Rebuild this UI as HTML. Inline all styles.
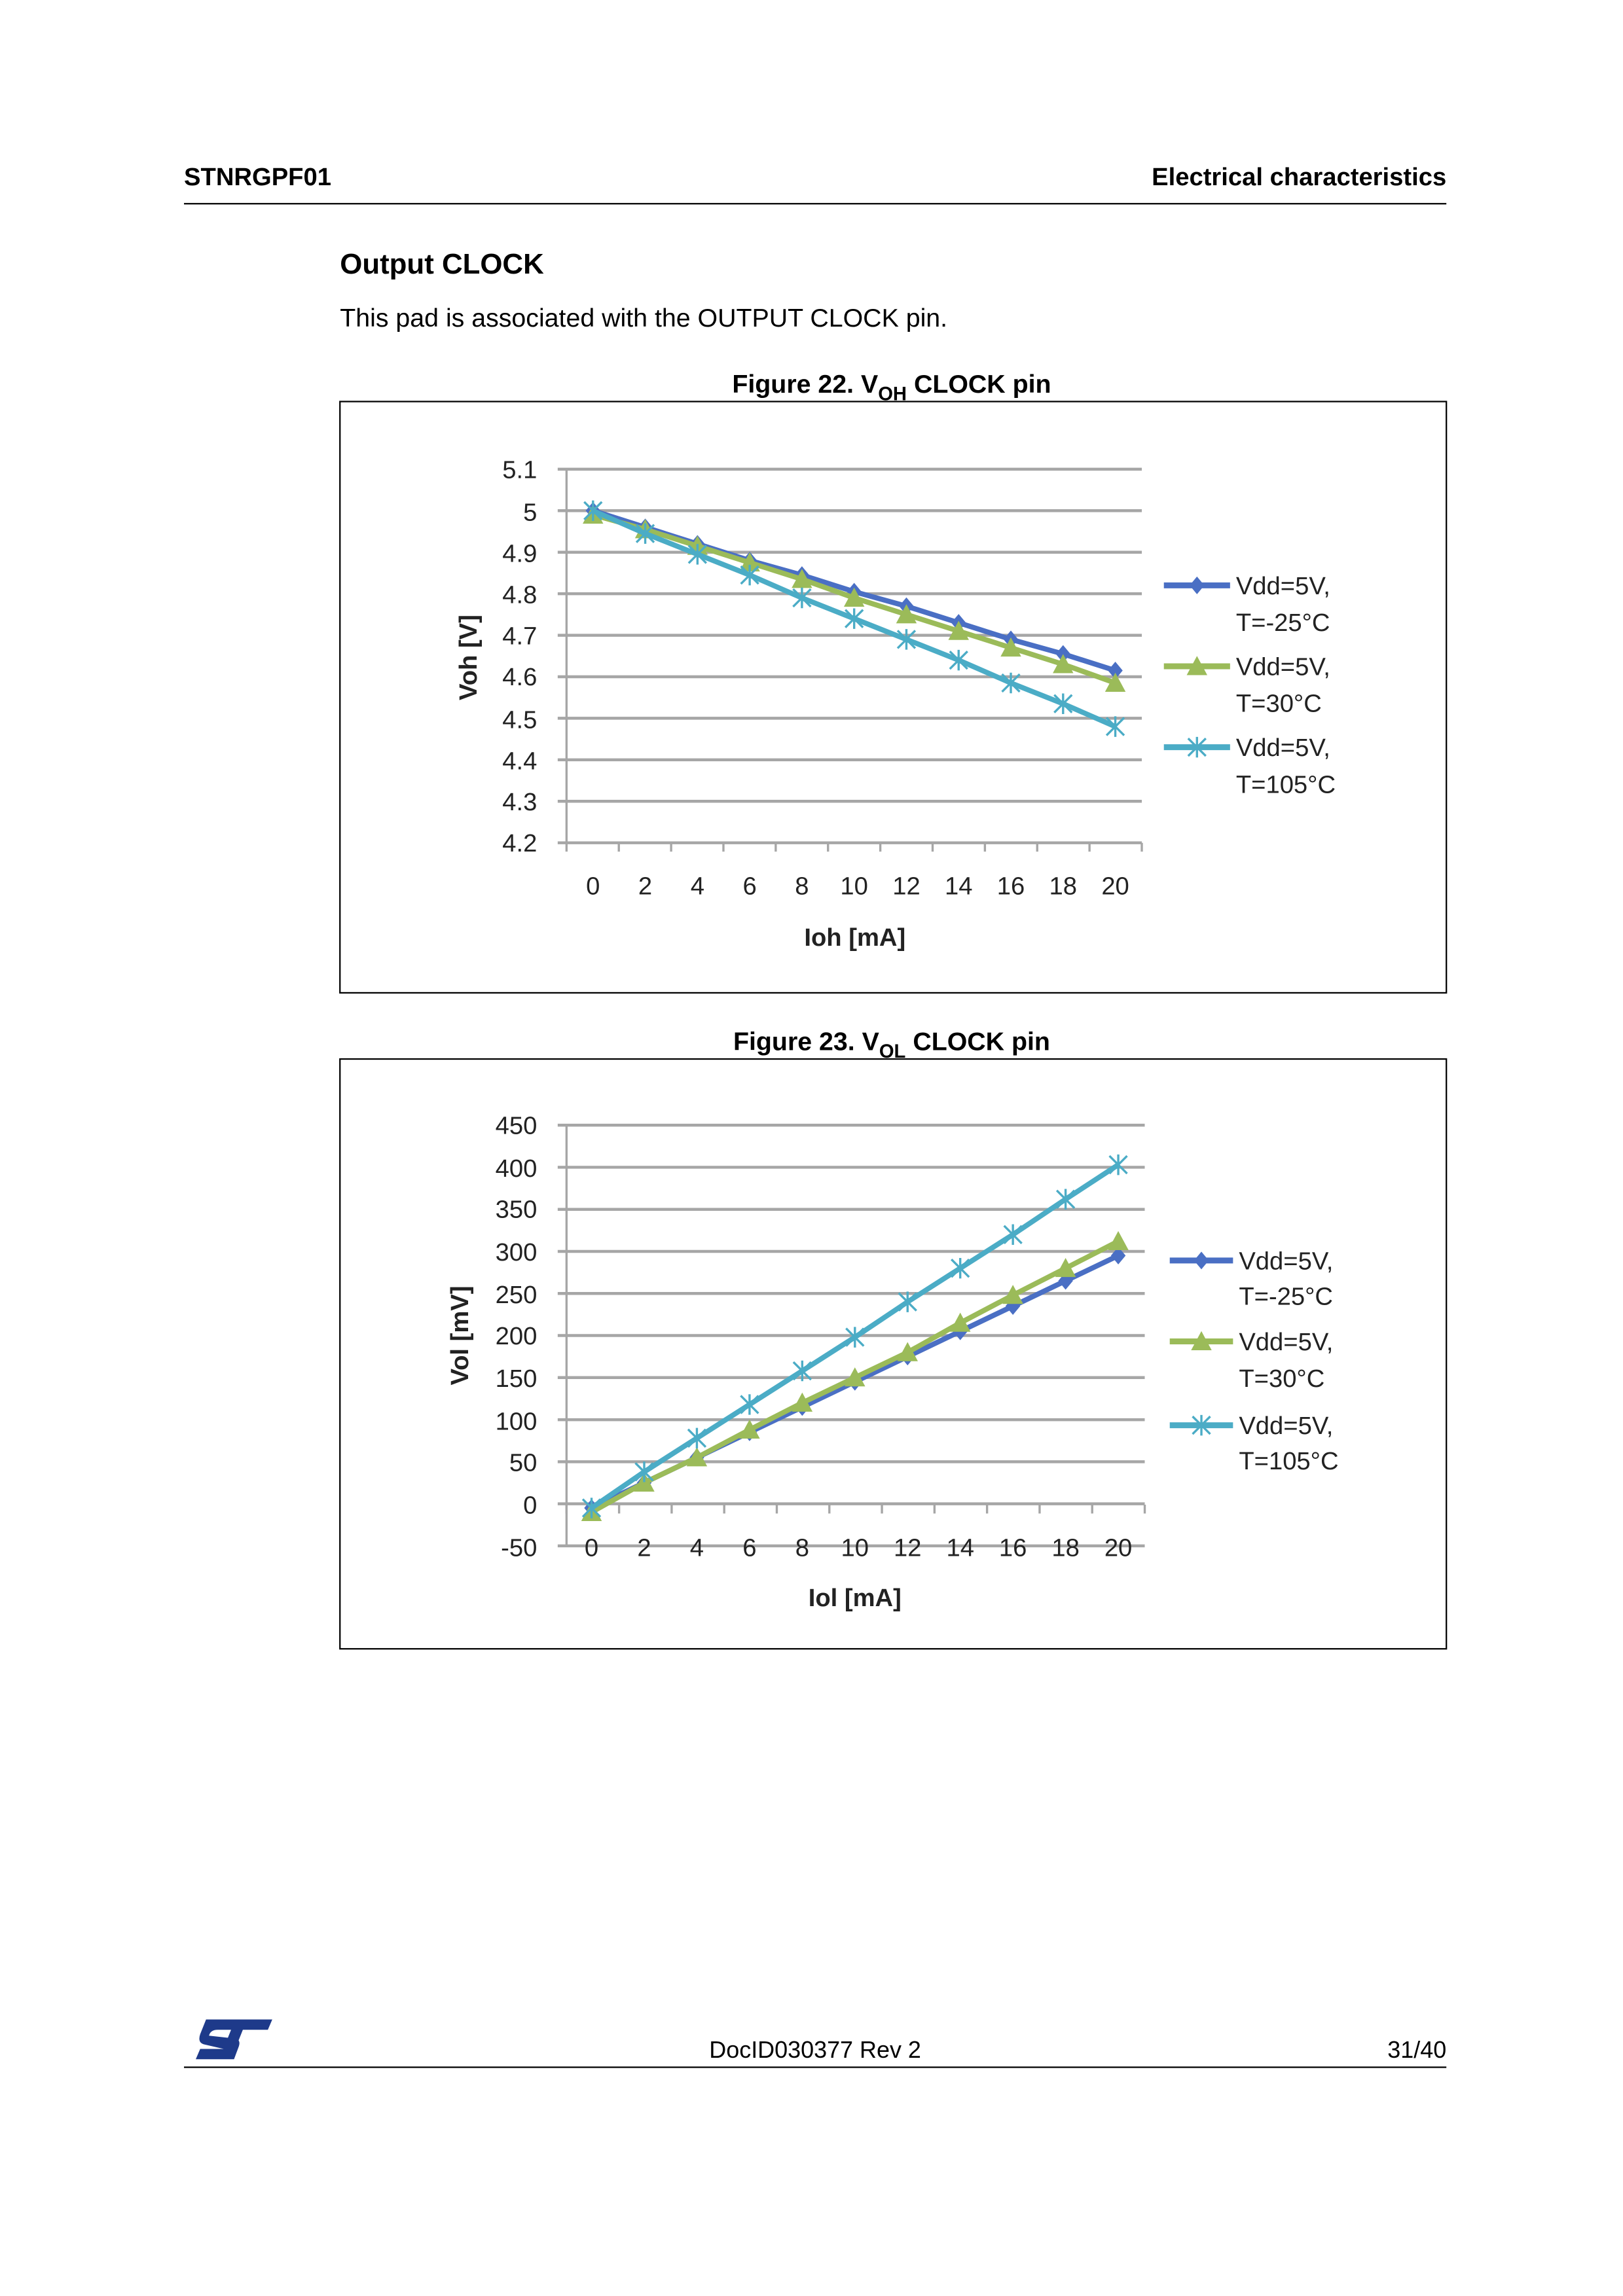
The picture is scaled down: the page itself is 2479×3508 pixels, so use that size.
<!DOCTYPE html>
<html><head><meta charset="utf-8"><style>
html,body{margin:0;padding:0;background:#fff}
svg{display:block}
text{font-family:"Liberation Sans",sans-serif}
</style></head><body>
<svg id="s" width="2479" height="3508" viewBox="0 0 1103 1561" xmlns="http://www.w3.org/2000/svg">
<rect width="1103" height="1561" fill="#fff"/>
<text x="125" y="126" font-size="17" font-weight="bold">STNRGPF01</text>
<text x="983" y="126" font-size="17" font-weight="bold" text-anchor="end">Electrical characteristics</text>
<line x1="125" y1="138.5" x2="983" y2="138.5" stroke="#000" stroke-width="1"/>
<text x="231" y="186" font-size="19.5" font-weight="bold">Output CLOCK</text>
<text x="231" y="222" font-size="17.5">This pad is associated with the OUTPUT CLOCK pin.</text>
<text x="606" y="267" font-size="17.5" font-weight="bold" text-anchor="middle">Figure 22. V<tspan font-size="13" dy="5">OH</tspan><tspan dy="-5"> CLOCK pin</tspan></text>
<rect x="231" y="273" width="752" height="402" fill="none" stroke="#000" stroke-width="1"/>
<text x="606" y="714" font-size="17.5" font-weight="bold" text-anchor="middle">Figure 23. V<tspan font-size="13" dy="5">OL</tspan><tspan dy="-5"> CLOCK pin</tspan></text>
<rect x="231" y="720" width="752" height="401" fill="none" stroke="#000" stroke-width="1"/>
<g id="c1"></g><g id="c2"></g>
<g font-family="Liberation Sans" font-size="17" fill="#222">
<text x="365" y="325" text-anchor="end">5.1</text><text x="365" y="354" text-anchor="end">5</text><text x="365" y="382" text-anchor="end">4.9</text><text x="365" y="410" text-anchor="end">4.8</text><text x="365" y="438" text-anchor="end">4.7</text><text x="365" y="466" text-anchor="end">4.6</text><text x="365" y="495" text-anchor="end">4.5</text><text x="365" y="523" text-anchor="end">4.4</text><text x="365" y="551" text-anchor="end">4.3</text><text x="365" y="579" text-anchor="end">4.2</text>
<text x="365" y="771" text-anchor="end">450</text><text x="365" y="800" text-anchor="end">400</text><text x="365" y="828" text-anchor="end">350</text><text x="365" y="857" text-anchor="end">300</text><text x="365" y="886" text-anchor="end">250</text><text x="365" y="914" text-anchor="end">200</text><text x="365" y="943" text-anchor="end">150</text><text x="365" y="972" text-anchor="end">100</text><text x="365" y="1000" text-anchor="end">50</text><text x="365" y="1029" text-anchor="end">0</text><text x="365" y="1058" text-anchor="end">-50</text>
<text x="581" y="643" text-anchor="middle" font-weight="bold">Ioh [mA]</text>
<text x="581" y="1092" text-anchor="middle" font-weight="bold">Iol [mA]</text>
<text transform="translate(324,447) rotate(-90)" text-anchor="middle" font-weight="bold">Voh [V]</text>
<text transform="translate(318,908) rotate(-90)" text-anchor="middle" font-weight="bold">Vol [mV]</text>
<text x="840" y="404">Vdd=5V,</text><text x="840" y="429">T=-25°C</text>
<text x="840" y="459">Vdd=5V,</text><text x="840" y="484">T=30°C</text>
<text x="840" y="514">Vdd=5V,</text><text x="840" y="539">T=105°C</text>
<text x="842" y="863">Vdd=5V,</text><text x="842" y="887">T=-25°C</text>
<text x="842" y="918">Vdd=5V,</text><text x="842" y="943">T=30°C</text>
<text x="842" y="975">Vdd=5V,</text><text x="842" y="999">T=105°C</text>
<g id="xl"></g>
</g>
<text x="554" y="1399" font-size="16" text-anchor="middle">DocID030377 Rev 2</text>
<text x="983" y="1399" font-size="16" text-anchor="end">31/40</text>
<line x1="125" y1="1405.5" x2="983" y2="1405.5" stroke="#000" stroke-width="1"/>
<g fill="#1e3a8a">
<path d="M140 1373 L185 1373 L182 1380 L165 1380 L157 1400 L149 1400 L157 1380 L148 1380 Q143 1380 142 1384 L160 1386 Q164 1387 162 1392 L159 1400 L133 1400 L136 1393 L152 1393 L139 1390 Q134 1389 136 1383 Z"/>
</g>
</svg>
<script>
var NS="http://www.w3.org/2000/svg";
function el(p,t,a){var e=document.createElementNS(NS,t);for(var k in a)e.setAttribute(k,a[k]);p.appendChild(e);return e;}
var C=["#4a6fc4","#9bbb59","#4bacc6"];
function marker(g,k,x,y){
 if(k==0){el(g,"path",{d:"M"+x+" "+(y-6)+"L"+(x+5)+" "+y+"L"+x+" "+(y+6)+"L"+(x-5)+" "+y+"Z",fill:C[0]});}
 else if(k==1){el(g,"path",{d:"M"+x+" "+(y-7)+"L"+(x+7)+" "+(y+6)+"L"+(x-7)+" "+(y+6)+"Z",fill:C[1]});}
 else{var s=6;el(g,"path",{d:"M"+(x-s)+" "+(y-s)+"L"+(x+s)+" "+(y+s)+"M"+(x-s)+" "+(y+s)+"L"+(x+s)+" "+(y-s)+"M"+x+" "+(y-s-1)+"L"+x+" "+(y+s+1),stroke:C[2],"stroke-width":1.5,fill:"none"});}
}
function chart(id,top,bot,ymax,ymin,step,right,x0,dx,data,legY,lx1,lx2,ticksAtBottomLine){
 var g=document.getElementById(id);
 var n=Math.round((ymax-ymin)/step);
 for(var i=0;i<=n;i++){var y=top+(bot-top)*i/n;el(g,"line",{x1:379,x2:right,y1:y,y2:y,stroke:"#a6a6a6","stroke-width":2});}
 el(g,"line",{x1:385,x2:385,y1:top,y2:bot,stroke:"#a6a6a6","stroke-width":1.5});
 var ty=ticksAtBottomLine;
 for(var i=0;i<=11;i++){var x=385+i*(right-385)/11;el(g,"line",{x1:x,x2:x,y1:ty,y2:ty+6,stroke:"#a6a6a6","stroke-width":1.5});}
 for(var k=0;k<3;k++){
  var pts=data[k].map(function(v,i){return [x0+i*dx, top+(ymax-v)/(ymax-ymin)*(bot-top)];});
  el(g,"polyline",{points:pts.map(function(p){return p.join(",")}).join(" "),fill:"none",stroke:C[k],"stroke-width":3.5});
  pts.forEach(function(p){marker(g,k,p[0],p[1]);});
  el(g,"line",{x1:lx1,x2:lx2,y1:legY[k],y2:legY[k],stroke:C[k],"stroke-width":4});
  marker(g,k,(lx1+lx2)/2,legY[k]);
 }
}
chart("c1",319,573,5.1,4.2,0.1,776,403,35.5,[
[5.0,4.96,4.92,4.88,4.845,4.805,4.77,4.73,4.69,4.655,4.615],
[4.99,4.955,4.915,4.875,4.835,4.79,4.75,4.71,4.67,4.63,4.585],
[5.0,4.945,4.895,4.845,4.79,4.74,4.69,4.64,4.585,4.535,4.48]],[398,453,508],791,836,573);
chart("c2",765,1051,450,-50,50,778,402,35.8,[
[-5,25,55,85,115,145,175,205,235,265,295],
[-10,25,55,88,120,150,180,215,248,280,312],
[-5,38,78,118,158,198,240,280,320,362,403]],[857,912,969],795,838,1023);
var xl=document.getElementById("xl");
for(var i=0;i<=10;i++){
 var t=el(xl,"text",{x:403+i*35.5,y:608,"text-anchor":"middle"});t.textContent=String(i*2);
 var t2=el(xl,"text",{x:402+i*35.8,y:1058,"text-anchor":"middle"});t2.textContent=String(i*2);
}
</script>
</body></html>
